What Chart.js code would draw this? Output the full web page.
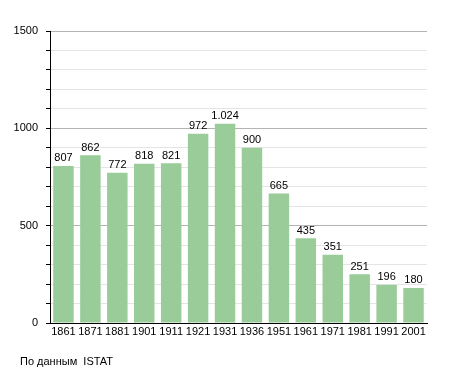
<!DOCTYPE html>
<html>
<head>
<meta charset="utf-8">
<script src="https://cdn.jsdelivr.net/npm/chart.js@4/dist/chart.umd.min.js"></script>
<style>
    html, body { margin: 0; padding: 0; background: #fff; }
    #wrap { position: relative; width: 455px; height: 373px; }
    #note { position: absolute; left: 20px; top: 355px; font: 11px "Liberation Sans", Arial, sans-serif; color: #000; }
</style>
</head>
<body>
<div id="wrap">
    <canvas id="chart" width="455" height="373"></canvas>
    <div id="note">По данным &nbsp;ISTAT</div>
</div>
<script>
const years = ['1861', '1871', '1881', '1901', '1911', '1921', '1931', '1936', '1951', '1961', '1971', '1981', '1991', '2001']
const population = [807, 862, 772, 818, 821, 972, 1024, 900, 665, 435, 351, 251, 196, 180]
const y_labels = [0, 500, 1000, 1500]

const FONT = {'family': '"Liberation Sans", Arial, sans-serif', 'size': 11}

// values over the bars, italian thousand separator
const value_labels = {
    'id': 'value_labels',
    afterDatasetsDraw(chart) {
        let ctx = chart.ctx
        let meta = chart.getDatasetMeta(0)
        ctx.save()
        ctx.font = '11px "Liberation Sans", Arial, sans-serif'
        ctx.fillStyle = '#000'
        ctx.textAlign = 'center'
        ctx.textBaseline = 'bottom'
        meta.data.forEach((bar, i) => {
            let text = population[i].toLocaleString('it-IT')
            ctx.fillText(text, bar.x, bar.y - 2)
        })
        ctx.restore()
    }
}

new Chart(
    document.getElementById('chart').getContext('2d'),
    {
        'type': 'bar',
        'data': {
            'labels': years,
            'datasets': [{
                'data': population,
                'backgroundColor': '#99cc99',
                'borderWidth': 0,
                'barPercentage': 0.76,
                'categoryPercentage': 1.0
            }]
        },
        'options': {
            'animation': false,
            'responsive': false,
            'layout': {
                'padding': {'top': 31, 'right': 28, 'bottom': 30, 'left': 0}
            },
            'plugins': {
                'legend': {'display': false},
                'tooltip': {'enabled': false}
            },
            'scales': {
                'x': {
                    'ticks': {
                        'color': '#000',
                        'font': FONT,
                        'maxRotation': 0,
                        'autoSkip': false,
                        'padding': 2
                    },
                    'grid': {'display': false, 'drawTicks': false, 'tickLength': 0},
                    'border': {'color': '#000', 'width': 1},
                    afterFit(axis) { axis.height = 20 }
                },
                'y': {
                    'min': 0,
                    'max': 1500,
                    'ticks': {
                        'stepSize': 100,
                        'color': '#000',
                        'font': FONT,
                        'padding': 8,
                        'callback': v => y_labels.includes(v) ? v : ''
                    },
                    'grid': {
                        'color': c => (c.tick && c.tick.value % 500 === 0) ? '#b4b4b4' : '#e4e4e4',
                        'tickColor': '#000',
                        'tickLength': 4
                    },
                    'border': {'color': '#000', 'width': 1},
                    afterFit(axis) { axis.width = 50 }
                }
            }
        },
        'plugins': [value_labels]
    })
</script>
</body>
</html>
